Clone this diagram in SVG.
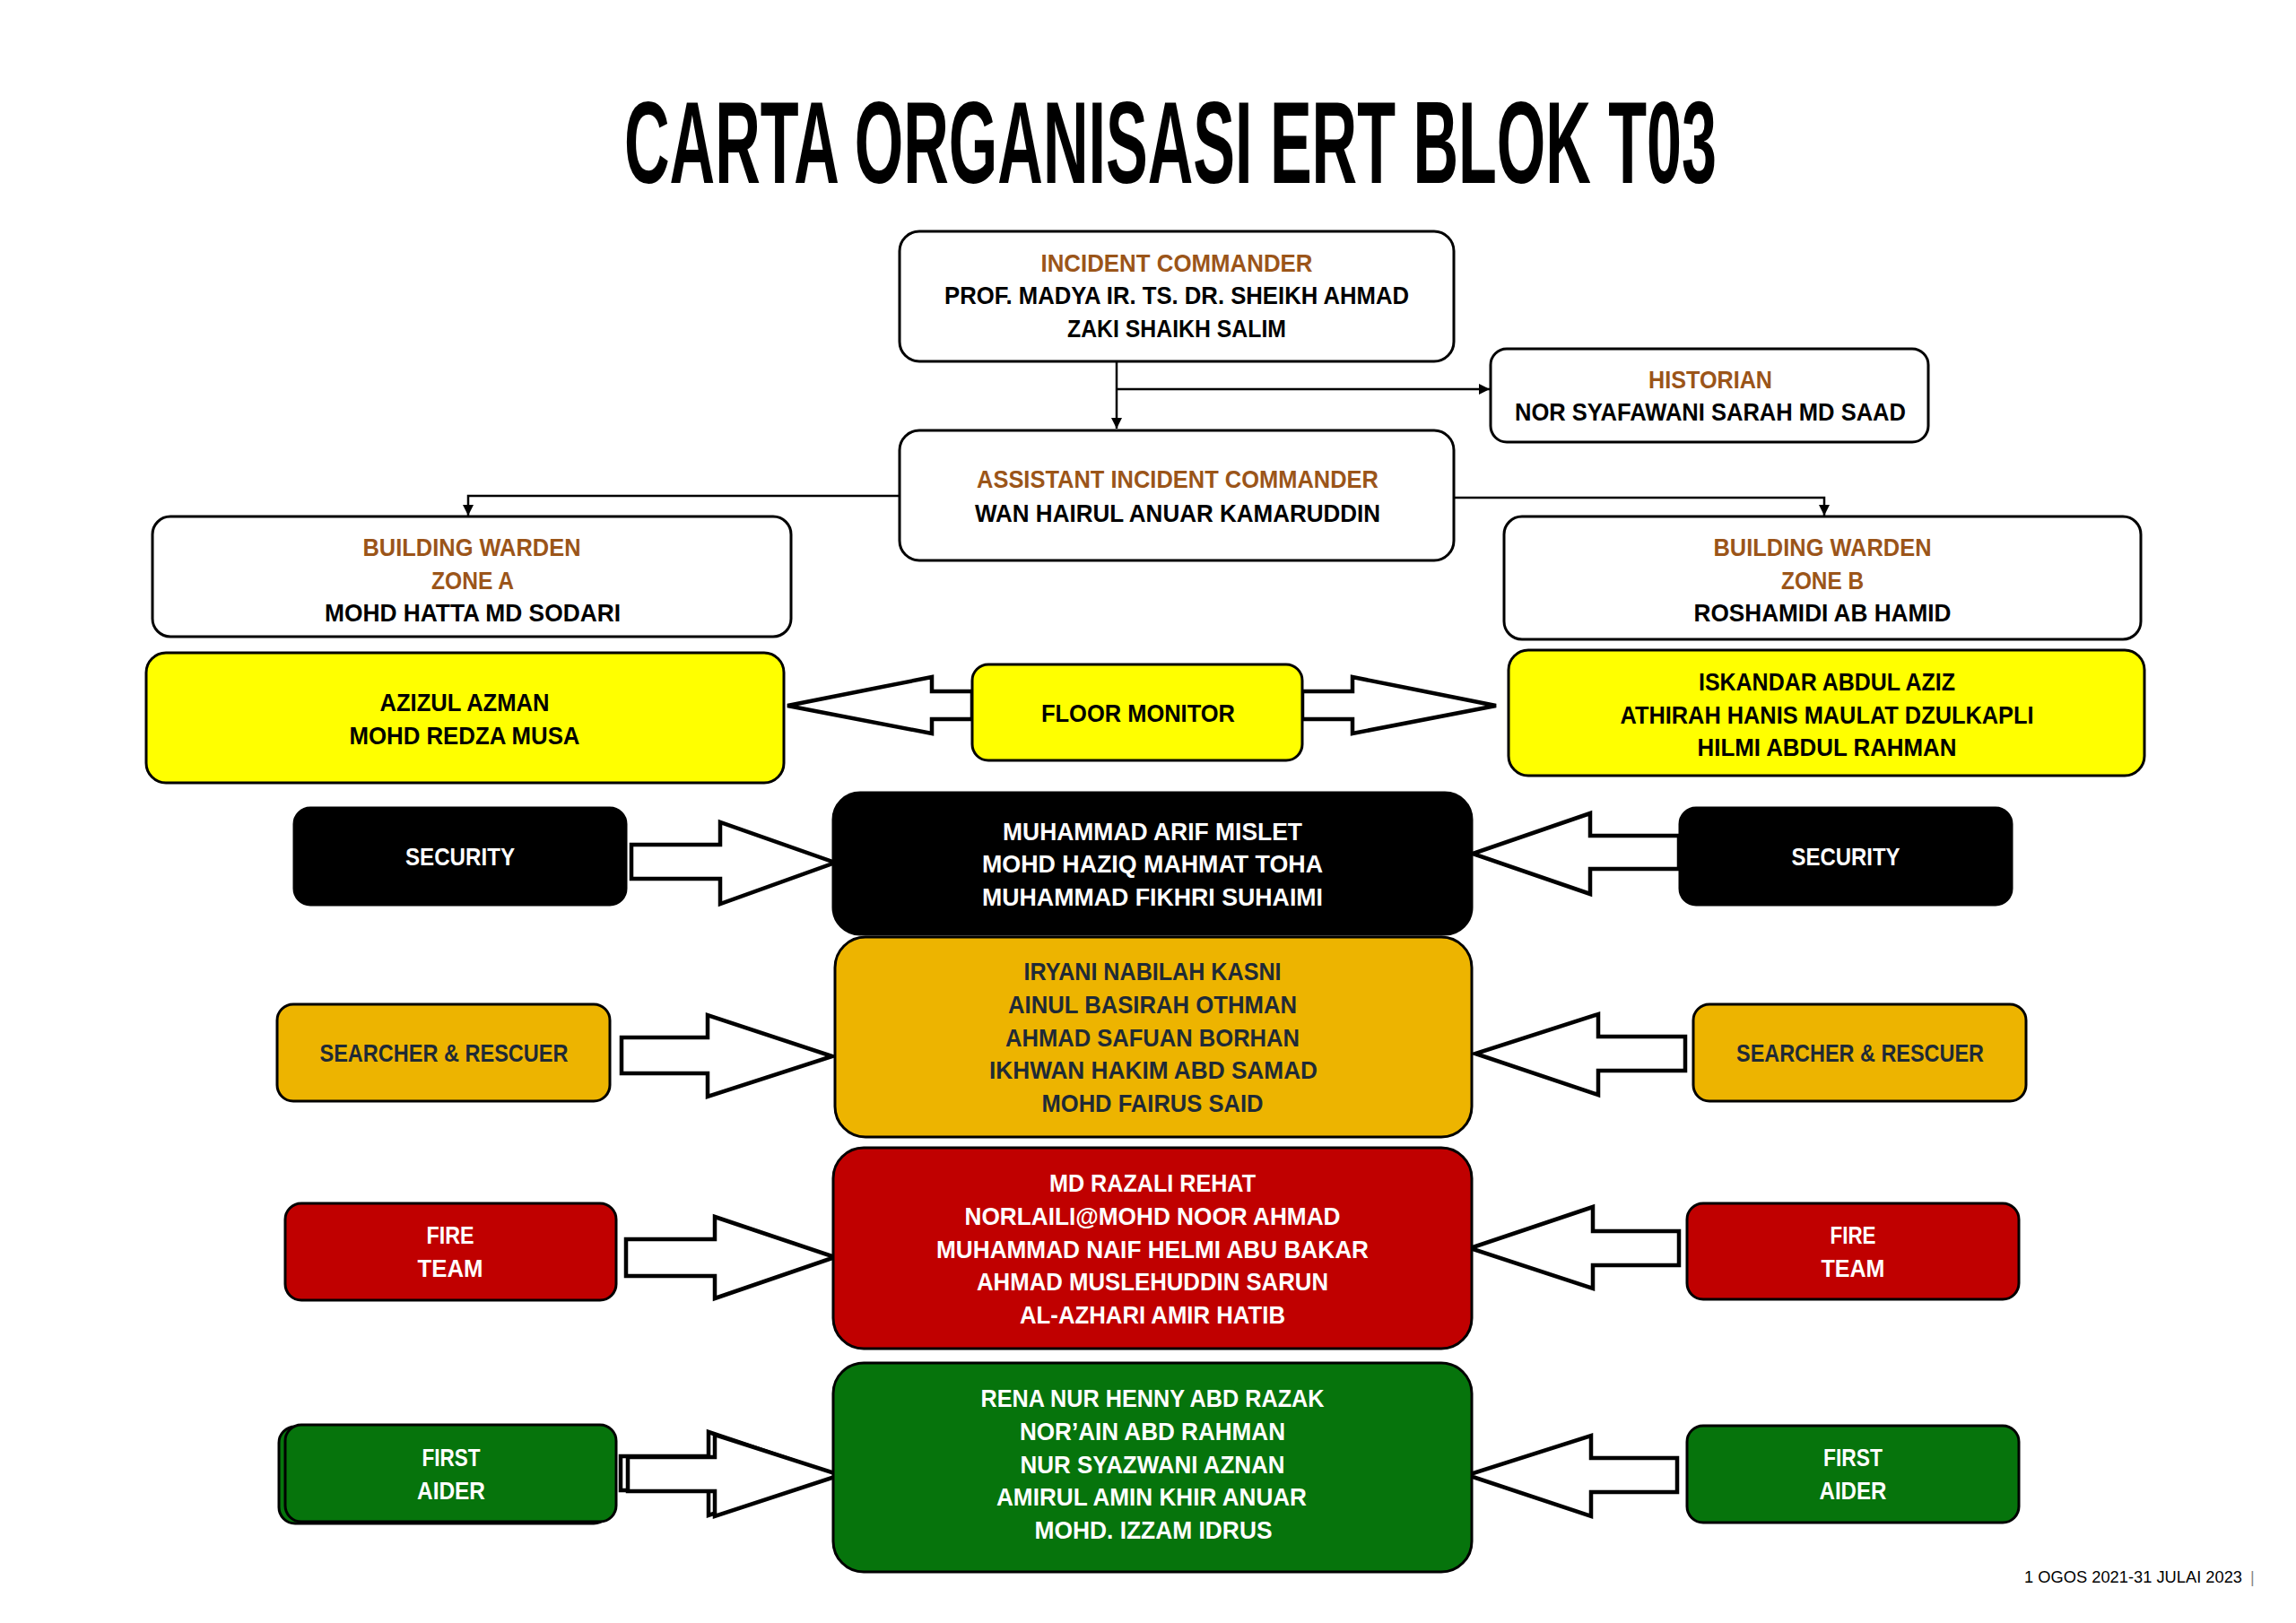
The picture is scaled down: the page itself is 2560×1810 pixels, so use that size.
<svg xmlns="http://www.w3.org/2000/svg" width="2560" height="1810" viewBox="0 0 2560 1810">
<defs>
<style>
.t{font-family:"Liberation Sans","Noto Sans",Arial,sans-serif;font-weight:bold;font-size:28px;text-anchor:middle}
.br{fill:#9B5519}
.k{fill:#000}
.w{fill:#fff}
.d{fill:#1F2A36}
.box{stroke:#000;stroke-width:3}
.wb{fill:#fff}
.yb{fill:#FFFF00}
.bb{fill:#000}
.ob{fill:#EDB400}
.rb{fill:#C00000}
.gb{fill:#06740C}
.arr{fill:#fff;stroke:#000;stroke-width:4.5;stroke-linejoin:miter}
.ln{fill:none;stroke:#000;stroke-width:2.5}
</style>
<marker id="ah" markerWidth="12" markerHeight="12" refX="10" refY="5" orient="auto" markerUnits="userSpaceOnUse" viewBox="0 0 10 10">
<path d="M0,0 L10,5 L0,10 z" fill="#000"/>
</marker>
</defs>
<rect x="0" y="0" width="2560" height="1810" fill="#fff"/>
<text id="title" x="1305" y="204" font-family="Liberation Sans, Arial, sans-serif" font-weight="bold" font-size="130" text-anchor="middle" textLength="1218" lengthAdjust="spacingAndGlyphs" fill="#000">CARTA ORGANISASI ERT BLOK T03</text>

<g id="connectors">
<path class="ln" d="M1245,403 L1245,478" marker-end="url(#ah)"/>
<path class="ln" d="M1245,434 L1661,434" marker-end="url(#ah)"/>
<path class="ln" d="M1003,553 L522,553 L522,575" marker-end="url(#ah)"/>
<path class="ln" d="M1621,555 L2034,555 L2034,575" marker-end="url(#ah)"/>
<polygon class="arr" points="1084,771 1039,771 1039,755 878,787 1039,818 1039,802 1084,802"/>
<polygon class="arr" points="1452,771 1508,771 1508,755 1668,787 1508,818 1508,802 1452,802"/>
<polygon class="arr" points="704,942 803,942 803,917 931,962 803,1008 803,980 704,980"/>
<polygon class="arr" points="1872,932 1773,932 1773,907 1642,952 1773,997 1773,969 1872,969"/>
<polygon class="arr" points="693,1157 789,1157 789,1132 928,1178 789,1223 789,1197 693,1197"/>
<polygon class="arr" points="1879,1156 1782,1156 1782,1131 1645,1175 1782,1221 1782,1194 1879,1194"/>
<polygon class="arr" points="698,1382 797,1382 797,1357 931,1402 797,1448 797,1423 698,1423"/>
<polygon class="arr" points="1872,1373 1776,1373 1776,1346 1639,1392 1776,1437 1776,1411 1872,1411"/>
<polygon class="arr" points="692,1624 790,1624 790,1597 930,1644 790,1690 790,1662 692,1662"/>
<polygon class="arr" points="700,1625 797,1625 797,1600 937,1645 797,1691 797,1663 700,1663"/>
<polygon class="arr" points="1870,1626 1774,1626 1774,1601 1636,1645 1774,1691 1774,1664 1870,1664"/>
</g>

<g id="incident-commander">
<rect class="box wb" x="1003" y="258" width="618" height="145" rx="22"/>
<text class="t br" x="1312" y="303" textLength="303" lengthAdjust="spacingAndGlyphs">INCIDENT COMMANDER</text>
<text class="t k" x="1312" y="339" textLength="518" lengthAdjust="spacingAndGlyphs">PROF. MADYA IR. TS. DR. SHEIKH AHMAD</text>
<text class="t k" x="1312" y="376" textLength="244" lengthAdjust="spacingAndGlyphs">ZAKI SHAIKH SALIM</text>
</g>

<g id="historian">
<rect class="box wb" x="1662" y="389" width="488" height="104" rx="18"/>
<text class="t br" x="1907" y="433" textLength="138" lengthAdjust="spacingAndGlyphs">HISTORIAN</text>
<text class="t k" x="1907" y="469" textLength="436" lengthAdjust="spacingAndGlyphs">NOR SYAFAWANI SARAH MD SAAD</text>
</g>

<g id="assistant-incident-commander">
<rect class="box wb" x="1003" y="480" width="618" height="145" rx="22"/>
<text class="t br" x="1313" y="544" textLength="448" lengthAdjust="spacingAndGlyphs">ASSISTANT INCIDENT COMMANDER</text>
<text class="t k" x="1313" y="582" textLength="452" lengthAdjust="spacingAndGlyphs">WAN HAIRUL ANUAR KAMARUDDIN</text>
</g>

<g id="building-warden-a">
<rect class="box wb" x="170" y="576" width="712" height="134" rx="20"/>
<text class="t br" x="526" y="620" textLength="243" lengthAdjust="spacingAndGlyphs">BUILDING WARDEN</text>
<text class="t br" x="527" y="657" textLength="92" lengthAdjust="spacingAndGlyphs">ZONE A</text>
<text class="t k" x="527" y="693" textLength="330" lengthAdjust="spacingAndGlyphs">MOHD HATTA MD SODARI</text>
</g>

<g id="building-warden-b">
<rect class="box wb" x="1677" y="576" width="710" height="137" rx="20"/>
<text class="t br" x="2032" y="620" textLength="243" lengthAdjust="spacingAndGlyphs">BUILDING WARDEN</text>
<text class="t br" x="2032" y="657" textLength="92" lengthAdjust="spacingAndGlyphs">ZONE B</text>
<text class="t k" x="2032" y="693" textLength="287" lengthAdjust="spacingAndGlyphs">ROSHAMIDI AB HAMID</text>
</g>

<g id="floor-monitor-a">
<rect class="box yb" x="163" y="728" width="711" height="145" rx="22"/>
<text class="t k" x="518" y="793" textLength="189" lengthAdjust="spacingAndGlyphs">AZIZUL AZMAN</text>
<text class="t k" x="518" y="830" textLength="257" lengthAdjust="spacingAndGlyphs">MOHD REDZA MUSA</text>
</g>

<g id="floor-monitor">
<rect class="box yb" x="1084" y="741" width="368" height="107" rx="18"/>
<text class="t k" x="1269" y="805" textLength="216" lengthAdjust="spacingAndGlyphs">FLOOR MONITOR</text>
</g>

<g id="floor-monitor-b">
<rect class="box yb" x="1682" y="725" width="709" height="140" rx="22"/>
<text class="t k" x="2037" y="770" textLength="286" lengthAdjust="spacingAndGlyphs">ISKANDAR ABDUL AZIZ</text>
<text class="t k" x="2037" y="807" textLength="461" lengthAdjust="spacingAndGlyphs">ATHIRAH HANIS MAULAT DZULKAPLI</text>
<text class="t k" x="2037" y="843" textLength="289" lengthAdjust="spacingAndGlyphs">HILMI ABDUL RAHMAN</text>
</g>

<g id="security-left">
<rect class="box bb" x="328" y="901" width="370" height="108" rx="18"/>
<text class="t w" x="513" y="965" textLength="122" lengthAdjust="spacingAndGlyphs">SECURITY</text>
</g>

<g id="security-team">
<rect class="box bb" x="929" y="884" width="712" height="158" rx="30"/>
<text class="t w" x="1285" y="937" textLength="334" lengthAdjust="spacingAndGlyphs">MUHAMMAD ARIF MISLET</text>
<text class="t w" x="1285" y="973" textLength="380" lengthAdjust="spacingAndGlyphs">MOHD HAZIQ MAHMAT TOHA</text>
<text class="t w" x="1285" y="1010" textLength="380" lengthAdjust="spacingAndGlyphs">MUHAMMAD FIKHRI SUHAIMI</text>
</g>

<g id="security-right">
<rect class="box bb" x="1873" y="901" width="370" height="108" rx="18"/>
<text class="t w" x="2058" y="965" textLength="121" lengthAdjust="spacingAndGlyphs">SECURITY</text>
</g>

<g id="searcher-left">
<rect class="box ob" x="309" y="1120" width="371" height="108" rx="18"/>
<text class="t d" x="495" y="1184" textLength="277" lengthAdjust="spacingAndGlyphs">SEARCHER &amp; RESCUER</text>
</g>

<g id="searcher-team">
<rect class="box ob" x="931" y="1045" width="710" height="223" rx="34"/>
<text class="t d" x="1285" y="1093" textLength="287" lengthAdjust="spacingAndGlyphs">IRYANI NABILAH KASNI</text>
<text class="t d" x="1285" y="1130" textLength="322" lengthAdjust="spacingAndGlyphs">AINUL BASIRAH OTHMAN</text>
<text class="t d" x="1285" y="1167" textLength="328" lengthAdjust="spacingAndGlyphs">AHMAD SAFUAN BORHAN</text>
<text class="t d" x="1286" y="1203" textLength="366" lengthAdjust="spacingAndGlyphs">IKHWAN HAKIM ABD SAMAD</text>
<text class="t d" x="1285" y="1240" textLength="247" lengthAdjust="spacingAndGlyphs">MOHD FAIRUS SAID</text>
</g>

<g id="searcher-right">
<rect class="box ob" x="1888" y="1120" width="371" height="108" rx="18"/>
<text class="t d" x="2074" y="1184" textLength="276" lengthAdjust="spacingAndGlyphs">SEARCHER &amp; RESCUER</text>
</g>

<g id="fire-left">
<rect class="box rb" x="318" y="1342" width="369" height="108" rx="18"/>
<text class="t w" x="502" y="1387" textLength="53" lengthAdjust="spacingAndGlyphs">FIRE</text>
<text class="t w" x="502" y="1424" textLength="73" lengthAdjust="spacingAndGlyphs">TEAM</text>
</g>

<g id="fire-team">
<rect class="box rb" x="929" y="1280" width="712" height="224" rx="34"/>
<text class="t w" x="1285" y="1329" textLength="230" lengthAdjust="spacingAndGlyphs">MD RAZALI REHAT</text>
<text class="t w" x="1285" y="1366" textLength="419" lengthAdjust="spacingAndGlyphs">NORLAILI@MOHD NOOR AHMAD</text>
<text class="t w" x="1285" y="1403" textLength="482" lengthAdjust="spacingAndGlyphs">MUHAMMAD NAIF HELMI ABU BAKAR</text>
<text class="t w" x="1285" y="1439" textLength="392" lengthAdjust="spacingAndGlyphs">AHMAD MUSLEHUDDIN SARUN</text>
<text class="t w" x="1285" y="1476" textLength="296" lengthAdjust="spacingAndGlyphs">AL-AZHARI AMIR HATIB</text>
</g>

<g id="fire-right">
<rect class="box rb" x="1881" y="1342" width="370" height="107" rx="18"/>
<text class="t w" x="2066" y="1387" textLength="51" lengthAdjust="spacingAndGlyphs">FIRE</text>
<text class="t w" x="2066" y="1424" textLength="71" lengthAdjust="spacingAndGlyphs">TEAM</text>
</g>

<g id="first-aider-left">
<rect class="box gb" x="311" y="1591" width="369" height="108" rx="18"/>
<rect class="box gb" x="318" y="1589" width="369" height="108" rx="18"/>
<text class="t w" x="503" y="1635" textLength="65" lengthAdjust="spacingAndGlyphs">FIRST</text>
<text class="t w" x="503" y="1672" textLength="76" lengthAdjust="spacingAndGlyphs">AIDER</text>
</g>

<g id="first-aid-team">
<rect class="box gb" x="929" y="1520" width="712" height="233" rx="34"/>
<text class="t w" x="1285" y="1569" textLength="383" lengthAdjust="spacingAndGlyphs">RENA NUR HENNY ABD RAZAK</text>
<text class="t w" x="1285" y="1606" textLength="296" lengthAdjust="spacingAndGlyphs">NOR’AIN ABD RAHMAN</text>
<text class="t w" x="1285" y="1643" textLength="295" lengthAdjust="spacingAndGlyphs">NUR SYAZWANI AZNAN</text>
<text class="t w" x="1284" y="1679" textLength="346" lengthAdjust="spacingAndGlyphs">AMIRUL AMIN KHIR ANUAR</text>
<text class="t w" x="1286" y="1716" textLength="265" lengthAdjust="spacingAndGlyphs">MOHD. IZZAM IDRUS</text>
</g>

<g id="first-aider-right">
<rect class="box gb" x="1881" y="1590" width="370" height="108" rx="18"/>
<text class="t w" x="2066" y="1635" textLength="66" lengthAdjust="spacingAndGlyphs">FIRST</text>
<text class="t w" x="2066" y="1672" textLength="75" lengthAdjust="spacingAndGlyphs">AIDER</text>
</g>

<text id="footer" x="2257" y="1765" font-family="Liberation Sans, Arial, sans-serif" font-size="18" textLength="243" lengthAdjust="spacingAndGlyphs" fill="#000">1 OGOS 2021-31 JULAI 2023</text>
<text x="2509" y="1765" font-family="Liberation Sans, Arial, sans-serif" font-size="18" fill="#888">|</text>
</svg>
